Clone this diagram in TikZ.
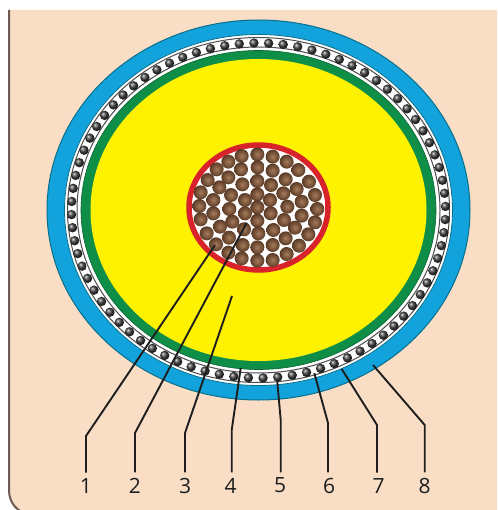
\documentclass[tikz,border=0pt]{standalone}
\usepackage{fontspec}
\setmainfont{Open Sans}
\definecolor{peach}{HTML}{F9DEC5}
\definecolor{edgebr}{HTML}{6E5A52}
\definecolor{sheath}{HTML}{12A3DC}
\definecolor{sheathedge}{HTML}{0B6F8C}
\definecolor{screen}{HTML}{0E8E46}
\definecolor{insul}{HTML}{FFF200}
\definecolor{redring}{HTML}{D9232A}
\definecolor{strandin}{HTML}{A67B5B}
\definecolor{strandout}{HTML}{5A3A26}
\definecolor{inkline}{HTML}{1E1E1E}
\tikzset{
  leader/.style={draw=inkline,line width=1.9pt,line join=round},
  numlabel/.style={font=\fontsize{21}{21}\selectfont,text=inkline,inner sep=0pt,outer sep=5.5pt,anchor=center},
  strand/.style={inner color=strandin,outer color=strandout},
  bead/.style={ball color=black!75}
}
\begin{document}
\begin{tikzpicture}[x=1pt,y=-1pt]
\useasboundingbox (0,0) rectangle (497,510);
% panel
\fill[peach] (9,10) -- (497,10) -- (497,515) -- (30,515) .. controls (17,512) and (9,503) .. (9,490) -- cycle;
\draw[edgebr,line width=2pt] (9,10) -- (9,490) .. controls (9,503) and (17,512) .. (30,515);
% cable layers
\coordinate (c) at (258.5,210);
\filldraw[fill=sheath,draw=sheathedge,line width=1pt] (c) ellipse [x radius=211.5,y radius=190];
\filldraw[fill=white,draw=sheathedge,line width=.8pt] (c) ellipse [x radius=194,y radius=175.5];
\draw[black!70,line width=1pt] (c) ellipse [x radius=191,y radius=172.5];
\draw[black!70,line width=1pt] (c) ellipse [x radius=181.5,y radius=163];
\filldraw[fill=screen,draw=screen!70!black,line width=.6pt] (c) ellipse [x radius=177.5,y radius=159.5];
\fill[insul] (c) ellipse [x radius=168,y radius=151];
% bedding wires
\foreach \k in {0,...,79}{
  \pgfmathsetmacro{\a}{268.6+4.5*\k}
  \shade[bead] ({258.5+187*cos(\a)},{210.5+167.5*sin(\a)}) circle (4.7);
}
% conductor
\filldraw[fill=white,draw=redring,line width=5.5pt] (258.5,207.5) ellipse [x radius=69.5,y radius=62.5];
\foreach \zx/\zy in {215/78,262/73,308/80,350/95,175/95,140/118,213/118,263/112,308/122,385/120,
113/150,175/142,347/148,262/153,417/155,148/172,217/163,303/165,92/187,380/177,340/190,262/193,
183/195,435/195,130/210,225/210,300/210,395/215,88/228,262/232,352/230,178/237,442/237,130/250,
225/250,302/250,395/257,92/268,187/275,262/272,342/270,435/277,150/290,222/298,375/293,110/310,
310/300,265/310,415/313,177/323,347/325,138/343,218/345,308/345,387/347,262/352,175/368,350/372,
215/385,262/392,308/390}{
  \shade[strand] ({170+\zx/3},{130+\zy/3}) circle (7);
}
% labels
\node[numlabel] (l1) at (86,485.5) {1};
\node[numlabel] (l2) at (135,485.5) {2};
\node[numlabel] (l3) at (185,485.5) {3};
\node[numlabel] (l4) at (230.5,485.5) {4};
\node[numlabel] (l5) at (280,485.5) {5};
\node[numlabel] (l6) at (329,485.5) {6};
\node[numlabel] (l7) at (378.5,485.5) {7};
\node[numlabel] (l8) at (424.5,485.5) {8};
% leader anchors
\coordinate (s1) at (215,245);  \coordinate (b1) at (86,436);
\coordinate (s2) at (246.7,222.7); \coordinate (b2) at (135,433);
\coordinate (s3) at (232,296);  \coordinate (b3) at (185,433);
\coordinate (s4) at (240.7,368); \coordinate (b4) at (231.7,430);
\coordinate (s5) at (277.3,381.7); \coordinate (b5) at (280.7,420);
\coordinate (s6) at (314.3,373); \coordinate (b6) at (328,423);
\coordinate (s7) at (341.7,369); \coordinate (b7) at (377,425);
\coordinate (s8) at (373,365);  \coordinate (b8) at (424.7,425);
\foreach \i in {1,...,8}{
  \draw[leader] (s\i) -- (b\i) -- (b\i |- l\i.north);
}
\end{tikzpicture}
\end{document}
